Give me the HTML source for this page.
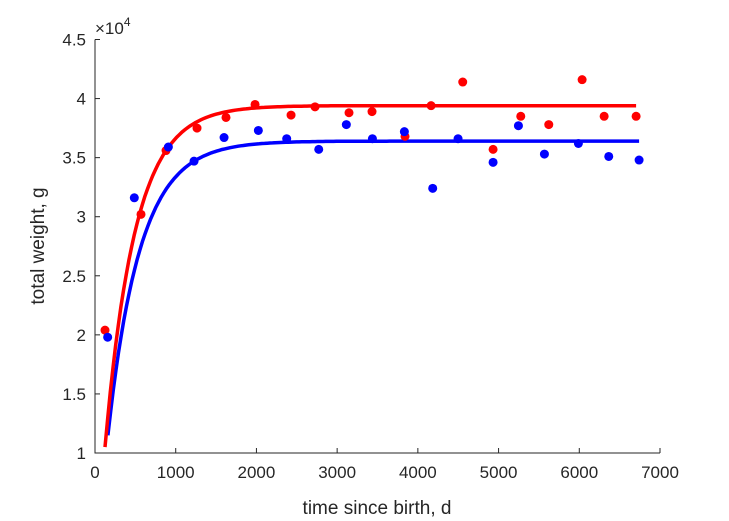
<!DOCTYPE html>
<html><head><meta charset="utf-8"><style>
html,body{margin:0;padding:0;background:#fff;}
svg{display:block;font-family:"Liberation Sans",sans-serif;}
</style></head><body>
<svg id="chart" width="729" height="521"></svg>
<script>
const xTicks=[0,1000,2000,3000,4000,5000,6000,7000];
const yTicks=[1,1.5,2,2.5,3,3.5,4,4.5];
const yTickLabels=["1","1.5","2","2.5","3","3.5","4","4.5"];
const redT=[124,570,880,1264,1623,1983,2429,2726,3147,3432,3841,4164,4556,4932,5275,5622,6035,6308,6704];
const redW=[2.04,3.02,3.56,3.75,3.84,3.95,3.86,3.93,3.88,3.89,3.68,3.94,4.14,3.57,3.85,3.78,4.16,3.85,3.85];
const blueT=[157,487,909,1227,1599,2024,2375,2772,3114,3437,3833,4184,4498,4932,5246,5568,5989,6365,6741];
const blueW=[1.98,3.16,3.59,3.47,3.67,3.73,3.66,3.57,3.78,3.66,3.72,3.24,3.66,3.46,3.77,3.53,3.62,3.51,3.48];
// fit params: [asymptote, start value, rate, start t, end t]
const redFit=[3.94,1.05,0.00268,124,6704];
const blueFit=[3.64,1.15,0.00251,160,6741];

const NS="http://www.w3.org/2000/svg";
const svg=document.getElementById('chart');
const X0=95,X1=660,Y0=453,Y1=39.5;
const sx=v=>X0+(v-0)/7000*(X1-X0);
const sy=v=>Y0-(v-1)/3.5*(Y0-Y1);
function mk(tag,attrs){const e=document.createElementNS(NS,tag);for(const k in attrs)e.setAttribute(k,attrs[k]);svg.appendChild(e);return e;}

function curve(p,color,name){
  const pts=[];
  for(let i=0;i<=200;i++){const t=p[3]+(p[4]-p[3])*i/200;const w=p[0]-(p[0]-p[1])*Math.exp(-p[2]*(t-p[3]));pts.push(sx(t).toFixed(1)+','+sy(w).toFixed(1));}
  const e=mk('polyline',{points:pts.join(' '),fill:'none',stroke:color,'stroke-width':3.5});
  
  
}
function dots(ts,ws,color,name){
  ts.forEach((t,i)=>{const c=mk('circle',{cx:sx(t),cy:sy(ws[i]),r:4.5,fill:color});
  
  });
}
curve(blueFit,'#0000ff','blue-fit-line');
curve(redFit,'#ff0000','red-fit-line');
dots(redT,redW,'#ff0000','red-point');
dots(blueT,blueW,'#0000ff','blue-point');

// axes
const ax=mk('path',{d:`M${X0},${Y1}V${Y0}H${X1}`,fill:'none',stroke:'#262626','stroke-width':1});


xTicks.forEach(v=>{
  const x=sx(v);
  mk('line',{x1:x,x2:x,y1:Y0,y2:Y0-5,stroke:'#262626'});
  const t=mk('text',{x:x,y:Y0+25,'text-anchor':'middle','font-size':17,fill:'#262626'});
  t.textContent=v;
  
  
});
yTicks.forEach((v,i)=>{
  const y=sy(v);
  mk('line',{x1:X0,x2:X0+5,y1:y,y2:y,stroke:'#262626'});
  const t=mk('text',{x:X0-9,y:y+6,'text-anchor':'end','font-size':17,fill:'#262626'});
  t.textContent=yTickLabels[i];
  
  
});
</script>
<svg style="position:absolute;left:0;top:0" width="729" height="521">
<text x="95" y="34" font-family="Liberation Sans" font-size="17" fill="#262626">×10<tspan dy="-8" font-size="12">4</tspan></text>
<text x="377" y="514" text-anchor="middle" font-family="Liberation Sans" font-size="19" fill="#262626">time since birth, d</text>
<text transform="translate(44,246) rotate(-90)" text-anchor="middle" font-family="Liberation Sans" font-size="19" fill="#262626">total weight, g</text>
</svg>
</body></html>
